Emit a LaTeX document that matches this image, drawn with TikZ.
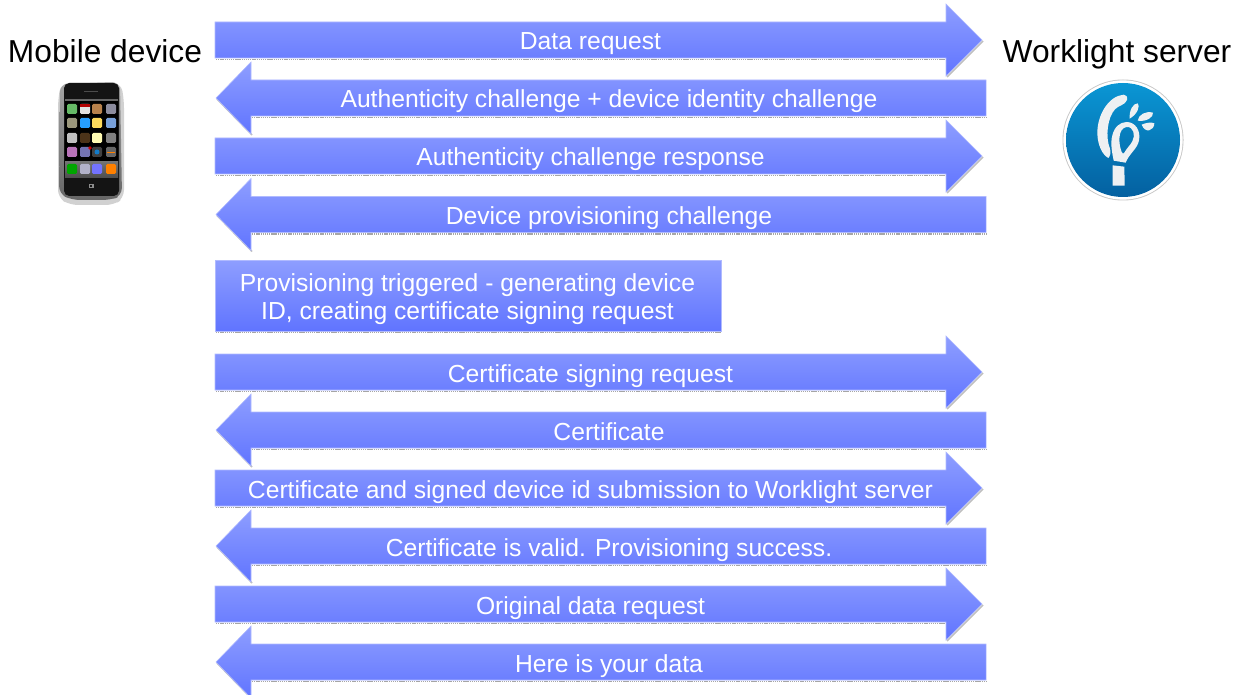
\documentclass[tikz,border=0pt]{standalone}
\usepackage{fontspec}
\setmainfont{Liberation Sans}
\definecolor{arrowtop}{RGB}{142,158,255}
\definecolor{arrowbot}{RGB}{96,116,255}
\definecolor{edgetint}{RGB}{176,186,255}
\definecolor{logotop}{RGB}{10,150,212}
\definecolor{logobot}{RGB}{4,96,160}
\definecolor{logoshape}{RGB}{238,240,242}
\tikzset{
  px/.style={x=0.75pt,y=-0.75pt},
  flowshape/.style={top color=arrowtop,bottom color=arrowbot,draw=edgetint,line width=0.4pt},
  shadowline/.style={draw=black!35,line width=1.3pt,dash pattern=on 1pt off 0.6pt},
  headshadow/.style={draw=black!25,line width=1.1pt},
  flowlabel/.style={text=white,font=\fontsize{18.5}{21}\selectfont,anchor=base,inner sep=0pt},
  titlelabel/.style={text=black,font=\fontsize{23.8}{28}\selectfont,anchor=base,inner sep=0pt},
  icon/.style={rounded corners=1pt,line width=0pt},
}
\newcommand{\rightflow}[3]{%
  \draw[shadowline] (216,#2+19.6) -- (947,#2+19.6);
  \draw[headshadow] (947,#2+37) -- (983,#2+1);
  \shade[flowshape] (215,#2-18) -- (946,#2-18) -- (946,#2-36) -- (982,#2) -- (946,#2+36) -- (946,#2+18) -- (215,#2+18) -- cycle;
  \node[flowlabel] (#1) at (590.5,#2+10) {#3};
}
\newcommand{\leftflow}[3]{%
  \draw[shadowline] (252,#2+19.6) -- (986,#2+19.6);
  \draw[headshadow] (217,#2+1) -- (252,#2+37);
  \shade[flowshape] (986,#2-18) -- (251,#2-18) -- (251,#2-36) -- (216,#2) -- (251,#2+36) -- (251,#2+18) -- (986,#2+18) -- cycle;
  \node[flowlabel] (#1) at (609,#2+10) {#3};
}
\newcommand{\appicon}[3]{\fill[#3,icon] (#1-5,#2-5) rectangle (#1+5,#2+5);}
\begin{document}
\begin{tikzpicture}[px]
\useasboundingbox (0,0) rectangle (1237,695);
\node[titlelabel] (mobile) at (105,63) {Mobile device};
\node[titlelabel] (server) at (1117,63) {Worklight server};

\rightflow{m1}{40}{Data request}
\leftflow{m2}{98}{Authenticity challenge + device identity challenge}
\rightflow{m3}{156}{Authenticity challenge response}
\leftflow{m4}{214.5}{Device provisioning challenge}

\draw[shadowline] (216,332.6) -- (721,332.6);
\shade[flowshape] (215,260) rectangle (721,331);
\node[flowlabel] (prov1) at (467.5,291) {Provisioning triggered - generating device};
\node[flowlabel] (prov2) at (467.5,319) {ID, creating certificate signing request};

\rightflow{m5}{372}{Certificate signing request}
\leftflow{m6}{430}{Certificate}
\rightflow{m7}{488}{Certificate and signed device id submission to Worklight server}
\leftflow{m8}{546}{Certificate is valid. Provisioning success.}
\rightflow{m9}{604}{Original data request}
\leftflow{m10}{662}{Here is your data}

% phone
\fill[black!18,rounded corners=6pt] (58,100) -- (61,83) -- (121,83) -- (124,100) -- (124,198) -- (114,205) -- (70,205) -- (58,198) -- cycle;
\shade[top color=black!35,bottom color=black!60,rounded corners=6pt] (60,84) -- (120,82) -- (122,196) -- (110,200) -- (72,200) -- (59,194) -- cycle;
\fill[black!92,rounded corners=4pt] (64,83) rectangle (119,196);
\fill[black!70] (84,91) rectangle (98,92);
\fill[black!60] (65,99) rectangle (118,101);
\fill[black] (65,101) rectangle (118,178);
\shade[top color=black!55,bottom color=black!70] (65,162) rectangle (118,178);
\appicon{72}{109}{green!55!black!60!white}
\appicon{85}{109}{black!12}
\fill[red!70!black] (80,104) rectangle (90,107);
\appicon{97}{109}{orange!60!black!70!white}
\appicon{111}{109}{blue!15!black!45!white}
\appicon{72}{123}{olive!35!black!55!white}
\appicon{85}{123}{blue!45!cyan!85!white}
\appicon{97}{123}{yellow!50!pink}
\appicon{111}{123}{cyan!50!blue!55!white}
\appicon{72}{138}{black!25}
\appicon{85}{138}{brown!40!black}
\appicon{97}{138}{yellow!30}
\appicon{111}{138}{black!50}
\appicon{72}{152}{violet!55!white}
\appicon{85}{152}{blue!45!black!55!white}
\fill[red!80!black] (90,148) circle (1.8);
\appicon{97}{152}{black!75}
\fill[cyan!60!blue] (97,152) circle (2.5);
\appicon{111}{152}{black!60}
\fill[orange] (107,152) rectangle (115,153.5);
\appicon{72}{169}{green!65!black}
\appicon{85}{169}{blue!30!black!30!white}
\appicon{97}{169}{blue!55!white}
\appicon{111}{169}{orange}
\fill[black!45] (88.5,184) rectangle (93.5,188);
\fill[black!92] (89.7,185.2) rectangle (92.3,186.8);

% logo
\fill[black!22] (1123,140) circle (60.5);
\fill[white] (1123,140) circle (59.6);
\shade[top color=logotop,bottom color=logobot] (1123,140) circle (57);
\begin{scope}[shift={(1055,72)},x=0.25pt,y=-0.25pt,fill=logoshape]
  % crescent
  \fill (206,68) .. controls (160,72) and (126,130) .. (127,185) .. controls (128,220) and (142,248) .. (160,258) .. controls (166,252) and (168,240) .. (165,230) .. controls (150,195) and (158,135) .. (180,112) .. controls (190,100) and (210,100) .. (216,84) .. controls (218,74) and (214,68) .. (206,68) -- cycle;
  % loop
  \fill[even odd rule] (176,266) .. controls (172,245) and (165,215) .. (172,190) .. controls (178,165) and (195,150) .. (215,150) .. controls (240,150) and (258,175) .. (252,205) .. controls (248,230) and (222,245) .. (212,272) -- cycle
     (200,240) .. controls (190,215) and (188,170) .. (214,165) .. controls (236,163) and (242,190) .. (232,208) .. controls (224,222) and (214,230) .. (208,242) .. controls (206,246) and (202,246) .. (200,240) -- cycle;
  % handle
  \fill (173,280) -- (208,284) -- (209,341) -- (173,341) -- cycle;
  % drops
  \fill (224,140) .. controls (222,115) and (234,94) .. (248,94) .. controls (256,102) and (248,126) .. (224,140) -- cycle;
  \fill (248,146) .. controls (250,128) and (272,116) .. (294,122) .. controls (296,136) and (274,150) .. (248,146) -- cycle;
  \fill (260,158) .. controls (272,152) and (290,150) .. (298,154) .. controls (298,176) and (270,186) .. (260,158) -- cycle;
\end{scope}
\end{tikzpicture}
\end{document}
